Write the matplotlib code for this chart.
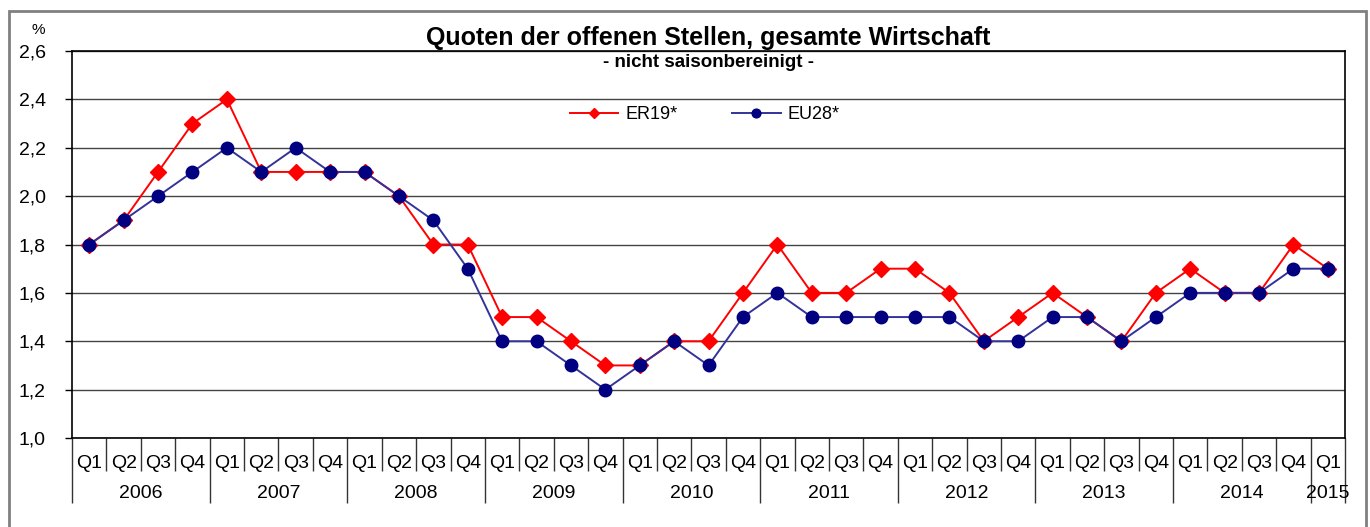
import matplotlib.pyplot as plt
from matplotlib.patches import Rectangle

# ================= DATA =================
years = ["2006", "2007", "2008", "2009", "2010", "2011", "2012", "2013", "2014", "2015"]
quarters = ["Q1", "Q2", "Q3", "Q4"] * 9 + ["Q1"]

er19 = [1.8, 1.9, 2.1, 2.3,
        2.4, 2.1, 2.1, 2.1,
        2.1, 2.0, 1.8, 1.8,
        1.5, 1.5, 1.4, 1.3,
        1.3, 1.4, 1.4, 1.6,
        1.8, 1.6, 1.6, 1.7,
        1.7, 1.6, 1.4, 1.5,
        1.6, 1.5, 1.4, 1.6,
        1.7, 1.6, 1.6, 1.8,
        1.7]

eu28 = [1.8, 1.9, 2.0, 2.1,
        2.2, 2.1, 2.2, 2.1,
        2.1, 2.0, 1.9, 1.7,
        1.4, 1.4, 1.3, 1.2,
        1.3, 1.4, 1.3, 1.5,
        1.6, 1.5, 1.5, 1.5,
        1.5, 1.5, 1.4, 1.4,
        1.5, 1.5, 1.4, 1.5,
        1.6, 1.6, 1.6, 1.7,
        1.7]

y_ticks = [1.0, 1.2, 1.4, 1.6, 1.8, 2.0, 2.2, 2.4, 2.6]

plt.rcParams['font.family'] = ['Liberation Sans', 'DejaVu Sans']

# ================= PLOT =================
fig = plt.figure(figsize=(13.7, 5.27), dpi=100)
ax = fig.add_axes([0.0526, 0.1689, 0.9292, 0.7343])

# outer frame
fig.patches.append(Rectangle((9 / 1370, -0.1), 1357 / 1370, 1.079,
                             transform=fig.transFigure, fill=False,
                             edgecolor='#808080', linewidth=2))

x = [i + 0.5 for i in range(len(er19))]
ax.plot(x, er19, color='#FF0000', linewidth=1.4, marker='D', markersize=8,
        markerfacecolor='#FF0000', markeredgecolor='#FF0000', label='ER19*', zorder=3)
ax.plot(x, eu28, color='#333399', linewidth=1.4, marker='o', markersize=9,
        markerfacecolor='#000080', markeredgecolor='#000080', label='EU28*', zorder=4)

ax.set_xlim(0, len(er19))
ax.set_ylim(1.0, 2.6)
ax.set_yticks(y_ticks)
ax.set_yticklabels([f"{v:.1f}".replace('.', ',') for v in y_ticks], fontsize=14)
ax.tick_params(axis='y', direction='out', length=5, width=1, pad=14)
ax.yaxis.grid(True, color='#444444', linewidth=1)
ax.set_axisbelow(True)
for s in ax.spines.values():
    s.set_color('black')
    s.set_linewidth(1.2)

# category axis: quarter and year separators
n = len(er19)
year_pos = list(range(0, n, 4)) + [n]
quarter_pos = [i for i in range(n + 1) if i not in year_pos]
ax.set_xticks(year_pos)
ax.set_xticks(quarter_pos, minor=True)
ax.set_xticklabels([])
ax.tick_params(axis='x', which='major', direction='out', length=47, width=1, color='#333333')
ax.tick_params(axis='x', which='minor', direction='out', length=24, width=1, color='#333333')

trans = ax.get_xaxis_transform()
for i, q in enumerate(quarters):
    ax.text(i + 0.5, -0.065, q, transform=trans, ha='center', va='center', fontsize=14)
for j, yr in enumerate(years):
    xc = j * 4 + 2 if j < len(years) - 1 else 36.5
    ax.text(xc, -0.143, yr, transform=trans, ha='center', va='center', fontsize=14)

# titles
fig.text(0.517, 0.928, "Quoten der offenen Stellen, gesamte Wirtschaft",
         ha='center', va='center', fontsize=18, fontweight='bold')
fig.text(0.517, 0.882, "- nicht saisonbereinigt -",
         ha='center', va='center', fontsize=13.5, fontweight='bold')
fig.text(0.028, 0.943, "%", ha='center', va='center', fontsize=11)

ax.legend(loc='center', bbox_to_anchor=(0.497, 0.835), ncol=2, frameon=False,
          fontsize=13, handlelength=2.7, columnspacing=3.0, markerscale=0.7,
          handletextpad=0.4)

fig.savefig("out.png", dpi=100)
